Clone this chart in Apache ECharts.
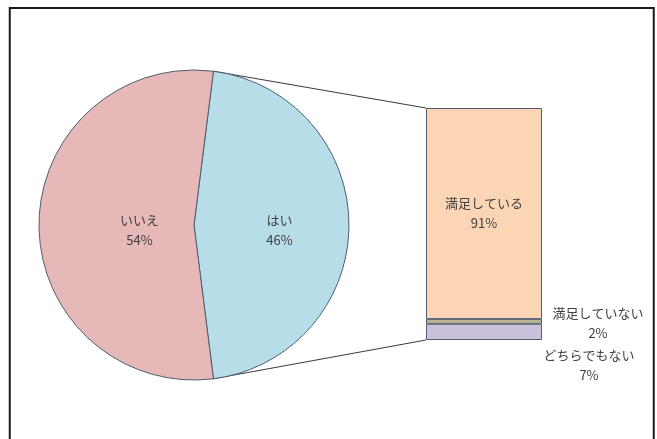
<!DOCTYPE html>
<html>
<head>
<meta charset="utf-8">
<script src="https://cdn.jsdelivr.net/npm/echarts@6/dist/echarts.min.js"></script>
<style>
html,body{margin:0;padding:0;background:#fff;}
#main{width:657px;height:439px;}
</style>
</head>
<body>
<div id="main"></div>
<script>
// ---- data ----
const pieNames = ['はい', 'いいえ'];
const pieValues = [46, 54];
const barCategory = ['はい'];
const barNames = ['満足している', '満足していない', 'どちらでもない'];
const barValues = [91, 2, 7];

// ---- layout / style ----
const FONT = '"Noto Sans CJK JP", "Noto Sans", sans-serif';
const TXT = '#404040';
const EDGE = '#4F5D6E';
const pieCx = 194, pieCy = 225, pieR = 155;
const grid = { left: 426, top: 108, width: 116, height: 232 };
const pieColors = ['#B7DEE8', '#E6B9B8'];
const barColors = ['#FCD5B5', '#C4BD97', '#CCC1DA'];

const total = pieValues.reduce((a, b) => a + b, 0);
const startAngle = 360 * pieValues[0] / total / 2;

const barLabelCfg = [
  { show: true, position: 'inside', align: 'center', verticalAlign: 'middle' },
  { show: true, position: [172, '50%'], align: 'center', verticalAlign: 'middle', offset: [0, 2] },
  { show: true, position: [163, 41], align: 'center', verticalAlign: 'middle' }
];

const barSeries = barNames.map((n, i) => ({
  type: 'bar',
  name: n,
  stack: 'total',
  barWidth: '100%',
  data: [barValues[i]],
  itemStyle: { color: barColors[i], borderColor: EDGE, borderWidth: 1 },
  label: Object.assign({
    formatter: p => n + '\n' + p.value + '%',
    color: TXT, fontFamily: FONT, fontSize: 13, lineHeight: 20
  }, barLabelCfg[i]),
  emphasis: { disabled: true },
  silent: true
}));

const pieOffsets = [[5, 5], [26, 5]];

function buildOption(graphic) {
  return {
    animation: false,
    backgroundColor: '#fff',
    grid: Object.assign({}, grid),
    xAxis: { type: 'category', data: barCategory, show: false },
    yAxis: { type: 'value', min: 0, max: 100, inverse: true, show: false },
    graphic: graphic,
    series: [
      {
        type: 'pie',
        center: [pieCx, pieCy],
        radius: pieR,
        startAngle: startAngle,
        clockwise: true,
        silent: true,
        data: pieNames.map((n, i) => ({ name: n, value: pieValues[i], itemStyle: { color: pieColors[i] } })),
        itemStyle: { borderColor: EDGE, borderWidth: 1 },
        label: {
          show: true,
          position: 'inside',
          formatter: p => p.name + '\n' + p.value + '%',
          color: TXT, fontFamily: FONT, fontSize: 13, lineHeight: 20, align: 'center'
        },
        labelLine: { show: false },
        labelLayout: p => ({ dx: pieOffsets[p.dataIndex][0], dy: pieOffsets[p.dataIndex][1] }),
        emphasis: { disabled: true }
      }
    ].concat(barSeries)
  };
}

// first pass: measure geometry through the chart's own scales
let chart = echarts.init(document.getElementById('main'), null, { renderer: 'canvas' });
chart.setOption(buildOption([]));
const th = startAngle * Math.PI / 180;
const pTop = [pieCx + pieR * Math.cos(th), pieCy - pieR * Math.sin(th)];
const pBot = [pieCx + pieR * Math.cos(th), pieCy + pieR * Math.sin(th)];
const bandW = grid.width / barCategory.length;
const barLeft = chart.convertToPixel({ xAxisIndex: 0 }, barCategory[0]) - bandW / 2;
const barTop = chart.convertToPixel({ yAxisIndex: 0 }, 0);
const barBottom = chart.convertToPixel({ yAxisIndex: 0 }, total);
chart.dispose();

// final render with connector lines and frame
chart = echarts.init(document.getElementById('main'), null, { renderer: 'canvas' });
chart.setOption(buildOption([
  { type: 'line', shape: { x1: pTop[0], y1: pTop[1], x2: barLeft, y2: barTop }, style: { stroke: '#3a3a3a', lineWidth: 1 }, z: 1, silent: true },
  { type: 'line', shape: { x1: pBot[0], y1: pBot[1], x2: barLeft, y2: barBottom }, style: { stroke: '#3a3a3a', lineWidth: 1 }, z: 1, silent: true },
  { type: 'rect', shape: { x: 9.75, y: 8, width: 644, height: 445 }, style: { fill: 'none', stroke: '#1a1a1a', lineWidth: 2 }, z: 10, silent: true }
]));
</script>
</body>
</html>
